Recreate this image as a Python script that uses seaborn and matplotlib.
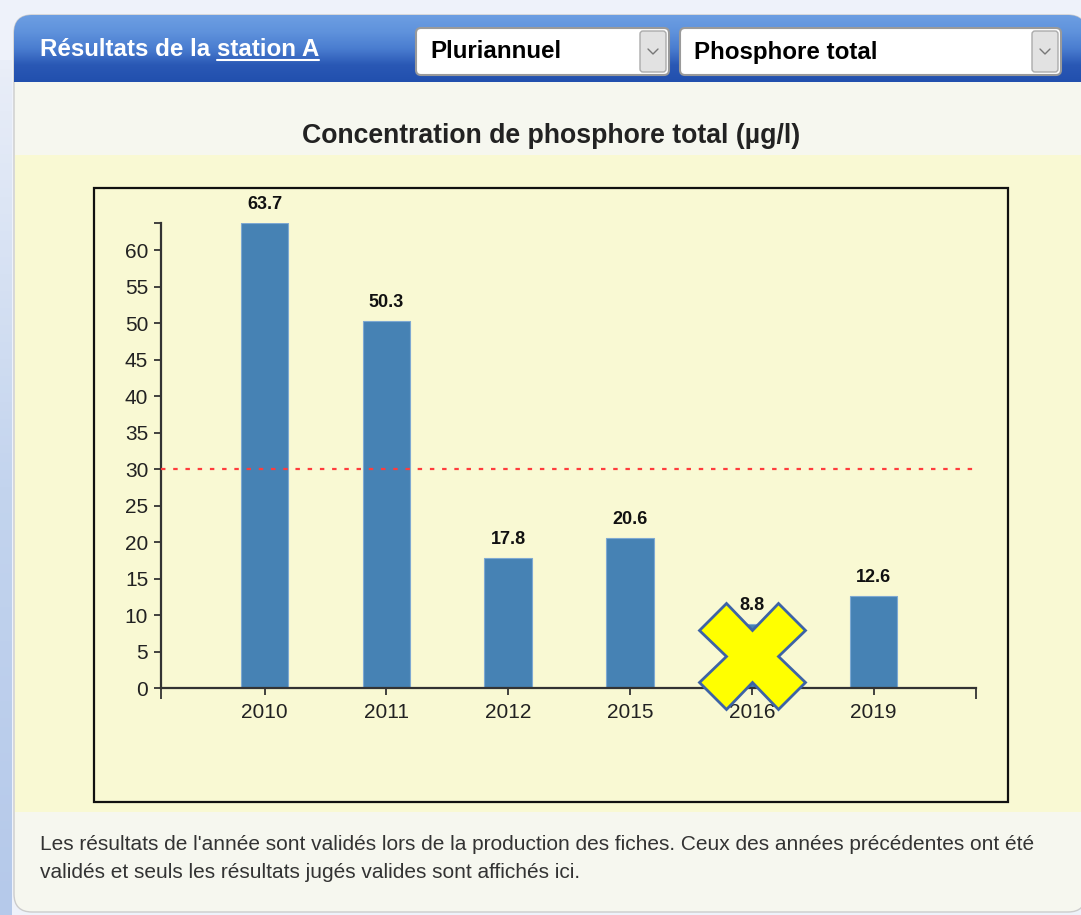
import numpy as np
import pandas as pd
import matplotlib
matplotlib.use("Agg")
import matplotlib.pyplot as plt
import seaborn as sns
from matplotlib.patches import FancyBboxPatch, Rectangle

# data
years = ["2010", "2011", "2012", "2015", "2016", "2019"]
values = [63.7, 50.3, 17.8, 20.6, 8.8, 12.6]
threshold = 30
invalid_years = ["2016"]
yticks = list(range(0, 61, 5))

title = "Concentration de phosphore total (µg/l)"
header = "Résultats de la station A"
station = "station A"
choice_period = "Pluriannuel"
choice_param = "Phosphore total"
footer_1 = "Les résultats de l'année sont validés lors de la production des fiches. Ceux des années précédentes ont été"
footer_2 = "validés et seuls les résultats jugés valides sont affichés ici."

df = pd.DataFrame({"year": years, "value": values})

sns.set_style("white")
plt.rcParams["font.family"] = ["Liberation Sans", "DejaVu Sans"]

fig = plt.figure(figsize=(10.81, 9.15), dpi=100)
fig.patch.set_facecolor("#EEF2FA")

# background axes in pixel coords
bg = fig.add_axes([0, 0, 1, 1])
bg.set_xlim(0, 1081)
bg.set_ylim(915, 0)
bg.axis("off")

# left bluish strip
strip = np.linspace(0, 1, 100).reshape(-1, 1)
strip_cmap = matplotlib.colors.LinearSegmentedColormap.from_list("s", ["#E9EEF8", "#C3D4EE", "#B5C9EA"])
bg.imshow(strip, cmap=strip_cmap, extent=(0, 12, 915, 60), aspect="auto", origin="upper", zorder=0)

# panel
panel = FancyBboxPatch((14, 15), 1072, 897, boxstyle="round,pad=0,rounding_size=18",
                       facecolor="#F6F7EF", edgecolor="#CCCCCC", linewidth=1, zorder=1)
bg.add_patch(panel)

# header gradient
grad = np.linspace(0, 1, 100).reshape(-1, 1)
head_cmap = matplotlib.colors.LinearSegmentedColormap.from_list(
    "h", ["#6C9EE2", "#5F92DC", "#4A7DD0", "#2A58B5", "#2250AE"])
im = bg.imshow(grad, cmap=head_cmap, extent=(14, 1086, 82, 15), aspect="auto", origin="upper", zorder=2)
im.set_clip_path(panel)

# header text with underlined station name
t = bg.text(40, 49, header, color="white", fontsize=17.4, fontweight="bold", va="center", ha="left", zorder=5)
fig.canvas.draw()
rend = fig.canvas.get_renderer()
tmp = bg.text(0, 0, station, fontsize=17.4, fontweight="bold")
w_station = tmp.get_window_extent(rend).width
tmp.remove()
bb = t.get_window_extent(rend)
bg.plot([bb.x1 - w_station, bb.x1], [60, 60], color="white", lw=1.5, zorder=5)

# dropdowns
for x0, x1, label in [(416, 669, choice_period), (680, 1061, choice_param)]:
    box = FancyBboxPatch((x0, 28), x1 - x0, 47, boxstyle="round,pad=0,rounding_size=5",
                         facecolor="white", edgecolor="#9A9A9A", linewidth=1.5, zorder=4)
    bg.add_patch(box)
    btn = FancyBboxPatch((x1 - 29, 31), 26, 41, boxstyle="round,pad=0,rounding_size=3",
                         facecolor="#E2E2E2", edgecolor="#ABABAB", linewidth=1, zorder=5)
    bg.add_patch(btn)
    cx = x1 - 16
    bg.plot([cx - 5, cx, cx + 5], [49, 54, 49], color="#777777", lw=1, zorder=6)
    bg.text(x0 + 14, 52, label, color="black", fontsize=17.4, fontweight="bold", va="center", ha="left", zorder=6)

# title
bg.text(551, 136, title, fontsize=19.2, fontweight="bold", color="#222222", ha="center", va="center", zorder=5)

# yellow chart area + frame
bg.add_patch(Rectangle((15, 155), 1070, 657, facecolor="#F9F9D3", edgecolor="none", zorder=3))
bg.add_patch(Rectangle((94, 188), 914, 614, facecolor="none", edgecolor="#111111", linewidth=1.6, zorder=4))

# footer
bg.text(40, 845, footer_1, fontsize=15, color="#333333", ha="left", va="center", zorder=5)
bg.text(40, 873, footer_2, fontsize=15, color="#333333", ha="left", va="center", zorder=5)

# chart
ax = fig.add_axes([160.7 / 1081, 1 - 688 / 915, (976 - 160.7) / 1081, (688 - 223) / 915])
ax.patch.set_alpha(0)
ax.set_zorder(10)

sns.barplot(data=df, x="year", y="value", color="#4682B4", saturation=1, width=0.39,
            edgecolor="#7EA9D2", linewidth=0.8, ax=ax)
ax.bar_label(ax.containers[0], fmt="%.1f", padding=7, fontsize=13, fontweight="bold", color="#111111")

ax.axhline(threshold, color="#FF3C3C", ls=(0, (2, 3.5)), lw=1.6, zorder=5)

# invalid result marker
for yr in invalid_years:
    i = years.index(yr)
    ax.plot(i, values[i] / 2, marker="X", markersize=76, markerfacecolor="#FFFF00",
            markeredgecolor="#3D63A6", markeredgewidth=2, clip_on=False, zorder=20)

ax.set_xlim(-0.852, 5.84)
ax.set_ylim(0, max(values))
ax.set_yticks(yticks)
ax.set_yticks([max(values)], minor=True)
ax.set_xticks([-0.852, 5.84], minor=True)
ax.tick_params(axis="y", which="major", length=5, width=1.3, color="#333333", labelsize=15,
               labelcolor="#222222", pad=4, left=True)
ax.tick_params(axis="y", which="minor", length=5, width=1.3, color="#333333", left=True)
ax.tick_params(axis="x", which="major", length=5, width=1.3, color="#333333", labelsize=15,
               labelcolor="#222222", pad=6, bottom=True)
ax.tick_params(axis="x", which="minor", length=8, width=1.3, color="#333333", bottom=True)
ax.set_xlabel("")
ax.set_ylabel("")
for s in ["top", "right"]:
    ax.spines[s].set_visible(False)
for s in ["left", "bottom"]:
    ax.spines[s].set_color("#333333")
    ax.spines[s].set_linewidth(1.6)

fig.savefig("out.png", dpi=100, facecolor=fig.get_facecolor())
